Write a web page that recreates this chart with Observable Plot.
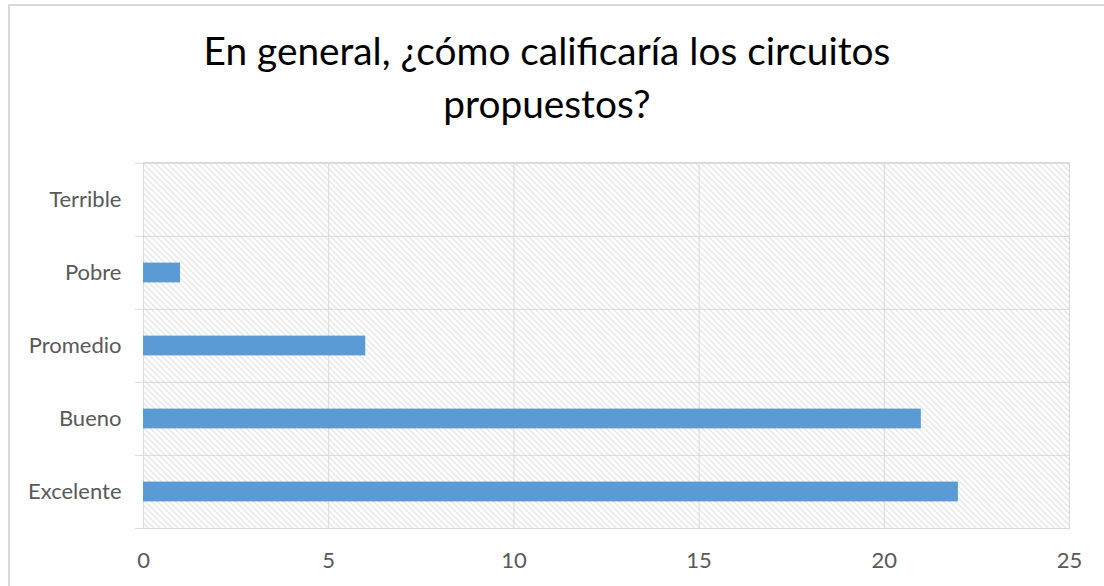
<!DOCTYPE html>
<html><head><meta charset="utf-8">
<script src="https://cdn.jsdelivr.net/npm/d3@7"></script>
<script src="https://cdn.jsdelivr.net/npm/@observablehq/plot@0.6"></script>
<style>
body{margin:0;background:#fff;font-family:Lato,sans-serif;overflow:hidden;}
#frame{position:absolute;left:8px;top:4px;width:1110px;height:640px;border:2px solid #d9d9d9;box-sizing:border-box;}
#title{position:absolute;left:0;top:24px;width:1094px;text-align:center;font-size:38.8px;line-height:53px;color:#000;}
#chart{position:absolute;left:0;top:140px;}
</style></head><body>
<div id="frame"></div>
<div id="title">En general, ¿cómo calificaría los circuitos<br>propuestos?</div>
<div id="chart"></div>
<script>
const categories = ["Terrible", "Pobre", "Promedio", "Bueno", "Excelente"];
const counts = [0, 1, 6, 21, 22];
const xTicks = [0, 5, 10, 15, 20, 25];

const data = categories.map((c, i) => ({category: c, count: counts[i]}));
const height = 446, mt = 22, mb = 58;
const band = (height - mt - mb) / categories.length;
const barH = 20;
const grid = "#d9d9d9";

const plot = Plot.plot({
  width: 1104, height,
  marginLeft: 143, marginRight: 35, marginTop: mt, marginBottom: mb,
  style: {fontFamily: "Lato, sans-serif", fontSize: "22px", color: "#595959", background: "transparent", overflow: "visible"},
  x: {domain: [0, 25], label: null},
  y: {domain: categories, padding: 0, label: null},
  marks: [
    Plot.frame({fill: "url(#hatch)", stroke: grid, strokeWidth: 1}),
    Plot.gridX(xTicks, {stroke: grid, strokeOpacity: 1}),
    Plot.ruleY(categories, {y: d => d, dy: -band / 2, stroke: grid, insetLeft: -8}),
    Plot.ruleY([categories[categories.length - 1]], {y: d => d, dy: band / 2, stroke: grid, insetLeft: -8}),
    Plot.barX(data, {x: "count", y: "category", fill: "#5b9bd5", insetTop: (band - barH) / 2, insetBottom: (band - barH) / 2}),
    Plot.axisX(xTicks, {tickSize: 0, tickPadding: 24, fill: "#595959", fontSize: 22, label: null}),
    Plot.axisY(categories, {tickSize: 0, tickPadding: 22, fill: "#595959", fontSize: 22, label: null})
  ]
});

const ns = "http://www.w3.org/2000/svg";
const defs = document.createElementNS(ns, "defs");
defs.innerHTML = `<pattern id="hatch" patternUnits="userSpaceOnUse" width="6" height="6">
  <rect width="6" height="6" fill="#ffffff"/>
  <path d="M-1,-1 L7,7 M-1,5 L1,7 M5,-1 L7,1" stroke="#dcdcdc" stroke-width="1.1"/>
</pattern>`;
plot.insertBefore(defs, plot.firstChild);
document.getElementById("chart").appendChild(plot);
</script>
</body></html>
